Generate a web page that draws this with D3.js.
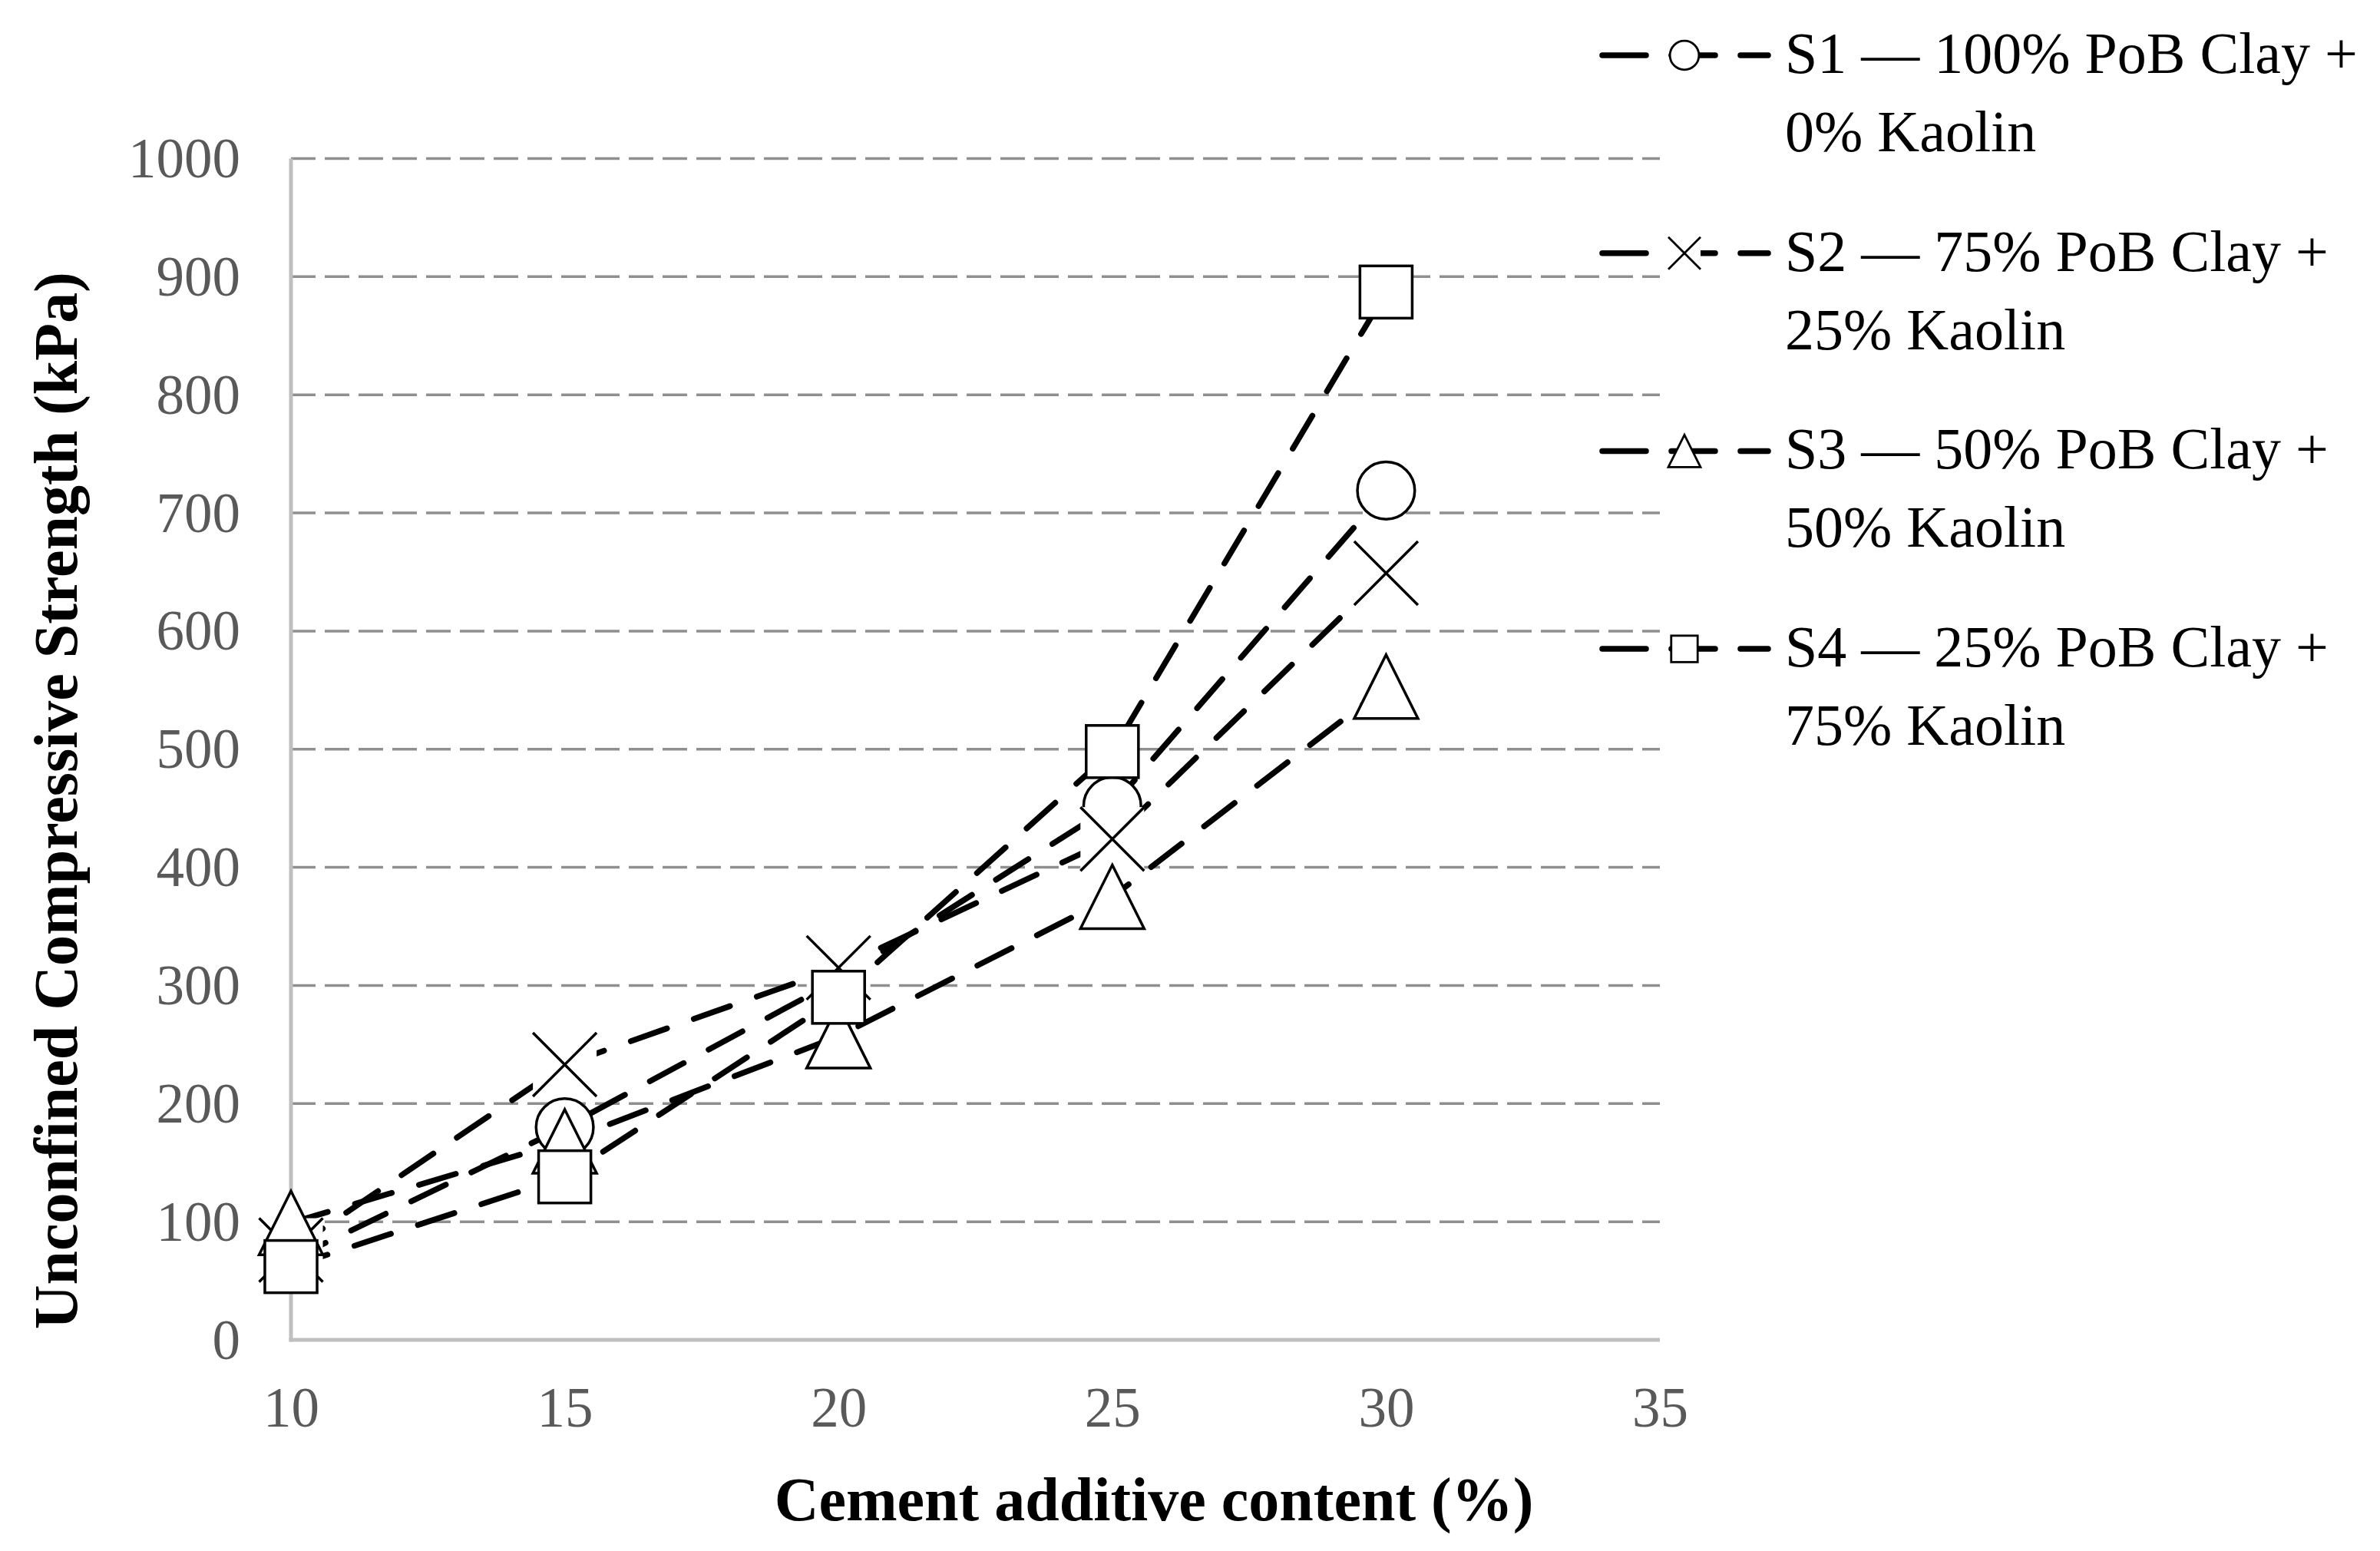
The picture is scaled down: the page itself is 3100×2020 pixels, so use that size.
<!DOCTYPE html>
<html>
<head>
<meta charset="utf-8">
<script src="https://cdn.jsdelivr.net/npm/d3@7"></script>
<style>
  html, body { margin: 0; padding: 0; background: #fff; }
  svg { display: block; }
  text { font-family: "Liberation Serif", "Times New Roman", serif; }
</style>
</head>
<body>
<script>
// ---- data ----
const cementContent = [10, 15, 20, 25, 30];
const seriesNames = [
  ["S1 — 100% PoB Clay +", "0% Kaolin"],
  ["S2 — 75% PoB Clay +", "25% Kaolin"],
  ["S3 — 50% PoB Clay +", "50% Kaolin"],
  ["S4 — 25% PoB Clay +", "75% Kaolin"]
];
const s1Values = [68, 180, 305, 452, 719];
const s2Values = [76, 233, 315, 424, 649];
const s3Values = [99, 168, 257, 375, 553];
const s4Values = [62, 138, 290, 498, 887];
const markerTypes = ["circle", "x", "triangle", "square"];
const xTicks = [10, 15, 20, 25, 30, 35];
const yTicks = [0, 100, 200, 300, 400, 500, 600, 700, 800, 900, 1000];
const xTitle = "Cement additive content (%)";
const yTitle = "Unconfined Compressive Strength (kPa)";

const series = [s1Values, s2Values, s3Values, s4Values].map((vals, i) => ({
  name: seriesNames[i],
  marker: markerTypes[i],
  points: cementContent.map((c, j) => ({x: c, y: vals[j]}))
}));

// ---- layout ----
const W = 3100, H = 2020;
const svg = d3.select("body").append("svg").attr("width", W).attr("height", H);
svg.append("rect").attr("width", W).attr("height", H).attr("fill", "#fff");

const x = d3.scaleLinear().domain([10, 35]).range([379, 2162]);
const y = d3.scaleLinear().domain([0, 1000]).range([1745, 206.5]);

// gridlines
svg.append("g").selectAll("line").data(yTicks.filter(t => t > 0)).join("line")
  .attr("x1", x(10)).attr("x2", x(35))
  .attr("y1", d => y(d)).attr("y2", d => y(d))
  .attr("stroke", "#8f8f8f").attr("stroke-width", 3.5)
  .attr("stroke-dasharray", "32 12");

// axes
const xAxis = d3.axisBottom(x).tickValues(xTicks).tickSize(0).tickPadding(0).tickFormat(d3.format("d"));
const gx = svg.append("g").attr("transform", `translate(0,${y(0)})`).call(xAxis);
gx.select(".domain").attr("stroke", "#bfbfbf").attr("stroke-width", 5).attr("d", `M${x(10) - 2.5},0H${x(35)}`);
gx.selectAll("text").attr("font-size", 73).attr("fill", "#595959")
  .attr("font-family", "Liberation Serif").attr("dy", null).attr("y", 113);

const yAxis = d3.axisLeft(y).tickValues(yTicks).tickSize(0).tickPadding(0).tickFormat(d3.format("d"));
const gy = svg.append("g").attr("transform", `translate(${x(10)},0)`).call(yAxis);
gy.select(".domain").attr("stroke", "#bfbfbf").attr("stroke-width", 5).attr("d", `M0,${y(1000)}V${y(0) + 2.5}`);
gy.selectAll("text").attr("font-size", 73).attr("fill", "#595959")
  .attr("font-family", "Liberation Serif").attr("x", -66).attr("dy", "0.33em");

// axis titles
svg.append("text").attr("x", 1503).attr("y", 1980)
  .attr("text-anchor", "middle").attr("font-size", 80).attr("font-weight", "bold").attr("fill", "#000")
  .text(xTitle);
svg.append("text").attr("transform", `translate(100,${(y(0) + y(1000)) / 2 + 67}) rotate(-90)`)
  .attr("text-anchor", "middle").attr("font-size", 80).attr("font-weight", "bold").attr("fill", "#000")
  .text(yTitle);

// marker drawing
function drawMarker(g, type, cx, cy, size, sw) {
  if (type === "circle") {
    g.append("circle").attr("cx", cx).attr("cy", cy).attr("r", size * 0.45)
      .attr("fill", "#fff").attr("stroke", "#000").attr("stroke-width", sw);
  } else if (type === "square") {
    const s = size * 0.82;
    g.append("rect").attr("x", cx - s / 2).attr("y", cy - s / 2).attr("width", s).attr("height", s)
      .attr("fill", "#fff").attr("stroke", "#000").attr("stroke-width", sw);
  } else if (type === "triangle") {
    const h = size, w = size;
    g.append("path").attr("d", `M${cx},${cy - h / 2}L${cx + w / 2},${cy + h / 2}L${cx - w / 2},${cy + h / 2}Z`)
      .attr("fill", "#fff").attr("stroke", "#000").attr("stroke-width", sw).attr("stroke-linejoin", "miter");
  } else if (type === "x") {
    const s = size / 2;
    g.append("rect").attr("x", cx - s).attr("y", cy - s).attr("width", size).attr("height", size).attr("fill", "#fff");
    g.append("path").attr("d", `M${cx - s},${cy - s}L${cx + s},${cy + s}M${cx - s},${cy + s}L${cx + s},${cy - s}`)
      .attr("stroke", "#000").attr("stroke-width", sw).attr("fill", "none");
  }
}

// lines
const line = d3.line().x(d => x(d.x)).y(d => y(d.y));
const gl = svg.append("g");
series.forEach(s => {
  gl.append("path").datum(s.points).attr("d", line)
    .attr("fill", "none").attr("stroke", "#000").attr("stroke-width", 7.5)
    .attr("stroke-linecap", "round").attr("stroke-dasharray", "50 37");
});
// markers
const gm = svg.append("g");
series.forEach(s => {
  s.points.forEach(p => drawMarker(gm, s.marker, x(p.x), y(p.y), 83, 3.5));
});

// legend
const lg = svg.append("g");
series.forEach((s, i) => {
  const base = 95 + i * 257.7;
  const ly = base - 23;
  lg.append("line").attr("x1", 2087).attr("x2", 2303).attr("y1", ly).attr("y2", ly)
    .attr("stroke", "#000").attr("stroke-width", 7.5).attr("stroke-linecap", "round")
    .attr("stroke-dasharray", "57 33");
  drawMarker(lg, s.marker, 2194, ly, 42, 2.8);
  const t = lg.append("text").attr("x", 2325).attr("y", base).attr("font-size", 76).attr("fill", "#000");
  t.append("tspan").attr("x", 2325).attr("y", base).text(s.name[0]);
  t.append("tspan").attr("x", 2325).attr("y", base + 102).text(s.name[1]);
});
</script>
</body>
</html>
